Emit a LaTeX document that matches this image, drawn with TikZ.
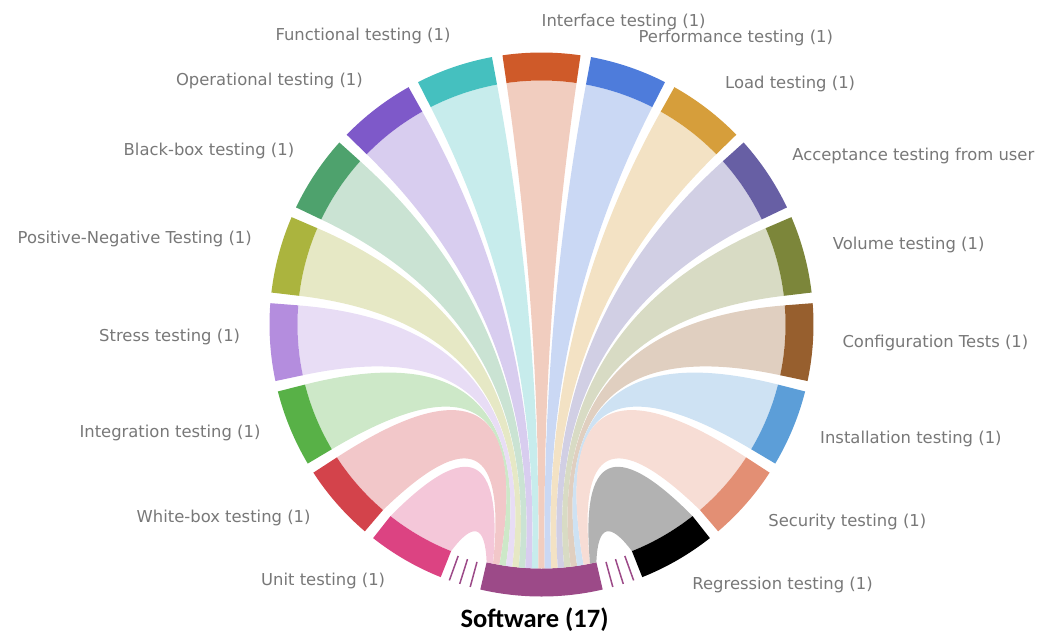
\documentclass[tikz,border=0pt]{standalone}
\usepackage{fontspec}
\setmainfont{DejaVu Sans}
\newfontfamily\swfont{Carlito}
\usetikzlibrary{calc}

% node colours
\definecolor{cUnit}{HTML}{DC4382}
\definecolor{cWhite}{HTML}{D3434B}
\definecolor{cInteg}{HTML}{58B147}
\definecolor{cStress}{HTML}{B48DDE}
\definecolor{cPosNeg}{HTML}{ABB43E}
\definecolor{cBlack}{HTML}{4EA26D}
\definecolor{cOper}{HTML}{7E59C9}
\definecolor{cFunc}{HTML}{45C0BF}
\definecolor{cIface}{HTML}{CF5A29}
\definecolor{cPerf}{HTML}{4E7CDB}
\definecolor{cLoad}{HTML}{D69E3B}
\definecolor{cAccept}{HTML}{675FA4}
\definecolor{cVol}{HTML}{7C863A}
\definecolor{cConf}{HTML}{975F2E}
\definecolor{cInst}{HTML}{5C9ED8}
\definecolor{cSec}{HTML}{E38F74}
\definecolor{cRegr}{HTML}{000000}
\definecolor{cSoft}{HTML}{9C4A88}
\definecolor{labelgray}{RGB}{120,120,120}

\tikzset{
  seglabel/.style={text=labelgray, font=\fontsize{16.4}{19}\selectfont, inner sep=0pt},
  ribbon/.style={fill=#1!30},
  segment/.style={fill=#1},
}

\newcommand{\Rin}{244}
\newcommand{\Rout}{272}

\begin{document}
\begin{tikzpicture}[x=1pt,y=1pt]
\useasboundingbox (-541.5,-310.5) rectangle (498.5,324.5);

% Ticks beside the Software arc
\foreach \t in {250.2,252.5,254.8,285.2,287.5,289.8}
  \draw[cSoft, line width=1.5] (\t:246) -- (\t:272);

% Software arc
\fill[segment=cSoft] (257:\Rin) arc[start angle=257, end angle=283, radius=\Rin]
  -- (283:\Rout) arc[start angle=283, end angle=257, radius=\Rout] -- cycle;
\node[font=\swfont\bfseries\fontsize{26.5}{30}\selectfont, inner sep=0pt] (software) at (-7,-295.5) {Software (17)};

% Ribbons, segments and labels of the test types
\foreach \name/\col [count=\k from 0] in {Unit testing (1)/cUnit, White-box testing (1)/cWhite,
    Integration testing (1)/cInteg, Stress testing (1)/cStress, Positive-Negative Testing (1)/cPosNeg,
    Black-box testing (1)/cBlack, Operational testing (1)/cOper, Functional testing (1)/cFunc,
    Interface testing (1)/cIface, Performance testing (1)/cPerf, Load testing (1)/cLoad,
    Acceptance testing from user/cAccept, Volume testing (1)/cVol, Configuration Tests (1)/cConf,
    Installation testing (1)/cInst, Security testing (1)/cSec, Regression testing (1)/cRegr} {
  \pgfmathsetmacro{\aup}{248.25-18.75*\k}
  \pgfmathsetmacro{\alo}{\aup-16.5}
  \pgfmathsetmacro{\bone}{257+26/17*\k}
  \pgfmathsetmacro{\btwo}{\bone+26/17}
  \pgfmathsetmacro{\rthird}{\Rin/3}
  % edge from the upper end to the Software arc
  \pgfmathsetmacro{\bA}{\bone>\aup+180 ? \bone-360 : \bone}
  \pgfmathsetmacro{\rA}{2/3*\Rin*max(0,1-abs(\bA-\aup)/40)}
  \pgfmathsetmacro{\mA}{(\bA+\aup)/2}
  % edge from the Software arc back to the lower end
  \pgfmathsetmacro{\bB}{\btwo>\alo+180 ? \btwo-360 : \btwo}
  \pgfmathsetmacro{\rB}{2/3*\Rin*max(0,1-abs(\bB-\alo)/40)}
  \pgfmathsetmacro{\mB}{(\bB+\alo)/2}
  \fill[ribbon=\col] (\alo:\Rin) arc[start angle=\alo, end angle=\aup, radius=\Rin]
    .. controls ($(\aup:\rthird)+(\mA:\rA)$) and ($(\bone:\rthird)+(\mA:\rA)$) .. (\bone:\Rin)
    arc[start angle=\bone, end angle=\btwo, radius=\Rin]
    .. controls ($(\btwo:\rthird)+(\mB:\rB)$) and ($(\alo:\rthird)+(\mB:\rB)$) .. (\alo:\Rin) -- cycle;
  \fill[segment=\col] (\alo:\Rin) arc[start angle=\alo, end angle=\aup, radius=\Rin]
    -- (\aup:\Rout) arc[start angle=\aup, end angle=\alo, radius=\Rout] -- cycle;
  \pgfmathsetmacro{\c}{\aup-8.25-(\k<8)*1.2}
  \ifnum\k<8 \def\anc{east}\else\def\anc{west}\fi
  \node[seglabel, anchor=\anc] (lab\k) at ($(\c:301.5)+(0,1)$) {\name};
}
\end{tikzpicture}
\end{document}
